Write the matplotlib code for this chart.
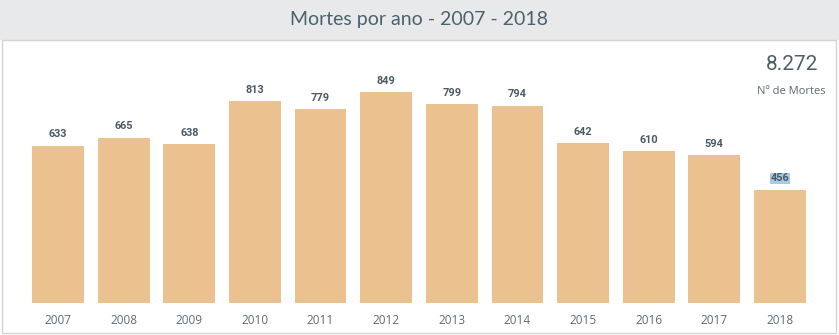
import matplotlib.pyplot as plt
from matplotlib.patches import Rectangle

anos = ['2007', '2008', '2009', '2010', '2011', '2012',
        '2013', '2014', '2015', '2016', '2017', '2018']
mortes = [633, 665, 638, 813, 779, 849, 799, 794, 642, 610, 594, 456]
total_txt = '8.272'
titulo = 'Mortes por ano - 2007 - 2018'

W, H = 839, 335
fig = plt.figure(figsize=(W / 100, H / 100), dpi=100)
fig.patch.set_facecolor('white')

# faixa cinza do titulo
fig.add_artist(Rectangle((0, 1 - 40 / H), 1, 40 / H, transform=fig.transFigure,
                         facecolor='#e8e9eb', edgecolor='none', zorder=0))
fig.add_artist(Rectangle((2 / W, 2 / H), 834 / W, 38 / H + (H - 80) / H,
                         transform=fig.transFigure, facecolor='none',
                         edgecolor='#d4d4d4', lw=1.0, zorder=1))
fig.text(0.5, 1 - 20 / H, titulo, ha='center', va='center',
         fontsize=14, color='#4a626c', family='Lato')

# eixo: centro da barra 0 em x=58, barra 11 em x=780; base em y=303
pitch = (780 - 58) / 11
left = 58 - pitch / 2
right = 780 + pitch / 2
bottom = 303
scale = (303 - 92) / 849
top = bottom - 1000 * scale
ax = fig.add_axes([left / W, 1 - bottom / H, (right - left) / W, (bottom - top) / H])
ax.set_xlim(-0.5, 11.5)
ax.set_ylim(0, 1000)
ax.axis('off')

xs = range(len(anos))
ax.bar(xs, mortes, width=0.79, color='#ecc190')
for i, v in enumerate(mortes):
    kw = {}
    if i == len(mortes) - 1:
        kw['bbox'] = dict(boxstyle='square,pad=0.05', fc='#a9cbe6', ec='none')
    ax.text(i, v + 46, str(v), ha='center', va='center', fontsize=7.8,
            color='#4a5a66', fontweight='bold', family='Roboto', **kw)
    ax.text(i, -72, anos[i], ha='center', va='center', fontsize=8.5,
            color='#5b6b76', family='Open Sans')

fig.text(792 / W, 1 - 64 / H, total_txt, ha='center', va='center',
         fontsize=15, color='#4a5f69', family='Roboto')
fig.text(791 / W, 1 - 91 / H, 'Nº de Mortes', ha='center', va='center',
         fontsize=8, color='#5b6b76', family='Open Sans')

fig.savefig('out.png', dpi=100)
